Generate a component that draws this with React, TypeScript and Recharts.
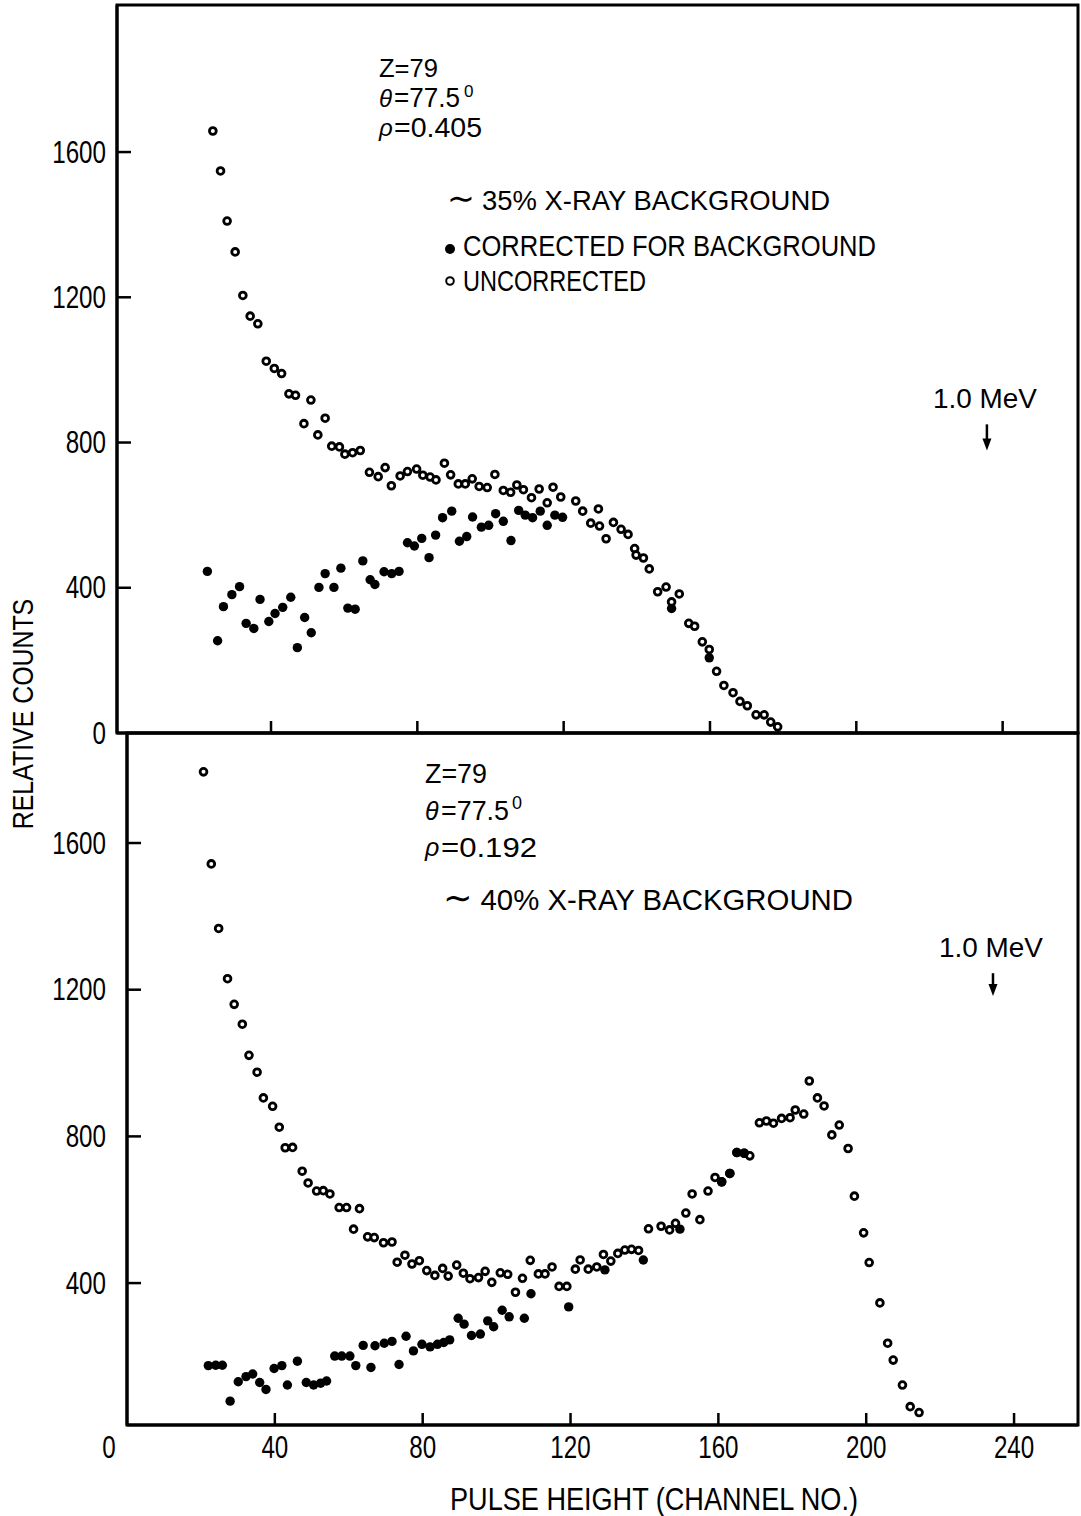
import React from "react";
import {
  ReferenceArea,
  ReferenceLine,
  Scatter,
  ScatterChart,
  XAxis,
  YAxis,
} from "recharts";

const FONT = '"Liberation Sans", Arial, sans-serif';
const INK = "#000";

// ---- upper panel: Z=79, rho=0.405 (channel, relative counts)
const topXDomain: [number, number] = [-2.1, 260.6];
const topYDomain: [number, number] = [0, 2005];
const topXTicks = [40, 80, 120, 160, 200, 240];
const topYTicks = [0, 400, 800, 1200, 1600];

const topUncorrected: [number, number][] = [
  [24.1, 1658], [26.2, 1548], [28.0, 1410], [30.2, 1325], [32.3, 1205],
  [34.3, 1148], [36.4, 1127], [38.7, 1024], [40.9, 1004], [42.9, 990],
  [44.9, 934], [46.7, 930], [49.0, 852], [50.9, 917], [52.8, 821],
  [54.8, 867], [56.6, 790], [58.7, 788], [60.2, 768], [62.3, 772],
  [64.4, 778], [66.9, 718], [69.3, 706], [71.2, 731], [72.9, 681],
  [75.3, 708], [77.3, 720], [79.8, 727], [81.5, 710], [83.5, 705],
  [85.1, 697], [87.4, 743], [89.1, 711], [91.2, 686], [93.1, 686],
  [95.0, 700], [96.9, 679], [99.1, 676], [101.2, 712], [103.5, 668],
  [105.5, 663], [107.2, 683], [109.0, 670], [111.2, 648], [113.3, 672],
  [115.5, 634], [117.1, 677], [119.2, 650], [123.3, 639], [125.2, 611],
  [127.4, 578], [129.5, 617], [129.8, 570], [131.6, 535], [133.6, 580],
  [135.7, 561], [137.6, 547], [139.4, 508], [139.8, 490], [141.8, 482],
  [143.4, 452], [145.7, 389], [148.0, 402], [149.5, 361], [151.6, 383],
  [154.2, 302], [155.8, 294], [157.9, 251], [159.8, 230], [161.8, 170],
  [163.8, 131], [166.3, 111], [168.2, 87], [170.2, 75], [172.6, 50],
  [174.8, 50], [176.6, 30], [178.5, 17],
];

const topCorrected: [number, number][] = [
  [22.6, 445], [25.4, 254], [27.0, 348], [29.3, 381], [31.4, 403],
  [33.2, 302], [35.3, 288], [37.0, 368], [39.4, 307], [41.1, 329],
  [43.2, 346], [45.4, 374], [47.2, 235], [49.2, 318], [51.0, 276],
  [53.1, 401], [54.8, 439], [57.2, 401], [59.1, 454], [61.0, 344],
  [63.0, 341], [65.1, 474], [67.1, 422], [68.4, 409], [70.9, 444],
  [73.0, 439], [75.0, 445], [77.3, 524], [79.2, 515], [81.2, 536],
  [83.2, 483], [85.0, 545], [86.9, 593], [89.4, 611], [91.5, 528],
  [93.5, 541], [95.1, 595], [97.5, 567], [99.5, 572], [101.4, 604],
  [103.5, 583], [105.6, 530], [107.7, 613], [109.5, 600], [111.5, 593],
  [113.6, 611], [115.5, 572], [117.6, 600], [119.7, 594], [149.5, 343],
  [159.8, 207],
];

// ---- lower panel: Z=79, rho=0.192
const botXDomain: [number, number] = [0, 257.3];
const botYDomain: [number, number] = [13, 1900];
const botXTicks = [0, 40, 80, 120, 160, 200, 240];
const botYTicks = [400, 800, 1200, 1600];

const botUncorrected: [number, number][] = [
  [20.7, 1794], [22.8, 1543], [24.8, 1367], [27.2, 1230], [29.0, 1160],
  [31.2, 1106], [33.0, 1021], [35.2, 975], [36.9, 905], [39.4, 882],
  [41.2, 825], [42.8, 769], [44.8, 770], [47.4, 705], [49.0, 673],
  [51.3, 651], [53.1, 652], [54.9, 643], [57.4, 606], [59.4, 606],
  [61.3, 547], [62.9, 603], [65.1, 526], [66.9, 524], [69.4, 510],
  [71.7, 512], [73.1, 457], [75.2, 476], [77.1, 452], [79.1, 461],
  [81.1, 434], [83.3, 421], [85.4, 440], [86.9, 419], [89.2, 449],
  [91.0, 427], [92.8, 412], [95.1, 415], [96.9, 432], [98.7, 402],
  [101.0, 428], [103.0, 424], [105.1, 375], [107.0, 413], [109.1, 462],
  [111.3, 425], [113.1, 425], [115.0, 444], [116.9, 391], [119.0, 391],
  [121.3, 438], [122.6, 463], [124.8, 438], [127.1, 444], [128.9, 478],
  [130.9, 460], [132.8, 481], [134.7, 490], [136.5, 492], [138.4, 489],
  [141.1, 548], [144.5, 555], [146.8, 545], [148.4, 563], [151.2, 591],
  [152.9, 643], [155.0, 573], [157.2, 651], [159.1, 688], [160.9, 676],
  [163.1, 699], [165.0, 756], [167.0, 754], [168.5, 747], [171.1, 837],
  [173.0, 842], [174.9, 836], [177.1, 849], [179.4, 851], [180.8, 872],
  [183.1, 861], [184.6, 951], [186.8, 905], [188.6, 883], [190.7, 804],
  [192.7, 831], [195.1, 767], [196.8, 637], [199.3, 537], [200.8, 456],
  [203.7, 346], [205.8, 236], [207.3, 190], [209.8, 122], [211.9, 63],
  [214.3, 47],
];

const botCorrected: [number, number][] = [
  [22.0, 175], [24.0, 176], [25.8, 176], [27.9, 78], [30.1, 131],
  [32.2, 145], [34.0, 152], [35.9, 129], [37.6, 110], [39.8, 167],
  [41.9, 175], [43.4, 122], [46.1, 187], [48.5, 129], [50.5, 122],
  [52.4, 127], [54.0, 133], [56.2, 201], [58.1, 201], [60.3, 201],
  [61.9, 175], [63.9, 230], [66.0, 170], [67.1, 229], [69.6, 236],
  [71.7, 241], [73.6, 178], [75.5, 255], [77.5, 215], [79.8, 233],
  [82.0, 226], [84.0, 233], [85.7, 238], [87.3, 245], [89.6, 304],
  [91.2, 288], [93.2, 257], [95.6, 261], [97.6, 297], [99.2, 281],
  [101.5, 326], [103.4, 308], [107.5, 304], [109.3, 371], [119.5, 335],
  [129.3, 436], [139.7, 463], [149.6, 547], [160.9, 676], [163.1, 699],
  [165.0, 756], [167.0, 754],
];

// 1.0 MeV markers: [channel, arrow top count, arrow tip count]
const topMeV: [number, number, number] = [235.7, 850, 778];
const botMeV: [number, number, number] = [234.3, 1245, 1183];

// panel geometry (px): plot left, top, height
const TOP_PANEL = { left: 117, top: 5, h: 728 };
const BOT_PANEL = { left: 127, top: 733, h: 692 };

const pts = (rows: [number, number][]) => rows.map(([ch, n]) => ({ ch, n }));

const OpenDot = (p: any) => (
  <circle cx={p.cx} cy={p.cy} r={3.4} fill="#fff" stroke={INK} strokeWidth={2.8} />
);
const FullDot = (p: any) => <circle cx={p.cx} cy={p.cy} r={4.7} fill={INK} />;

const TICK_FS = 31;
const SQUEEZE = 0.78;

function YLabel(props: any) {
  const { y, payload } = props;
  return (
    <text
      transform={`translate(106,${y}) scale(${SQUEEZE},1)`}
      textAnchor="end"
      dominantBaseline="central"
      fontFamily={FONT}
      fontSize={TICK_FS}
      fill={INK}
    >
      {payload.value}
    </text>
  );
}

function BotXLabel(props: any) {
  const { x, y, payload } = props;
  const zero = payload.value === 0;
  return (
    <text
      transform={`translate(${zero ? x - 18 : x},${y + 22}) scale(${SQUEEZE},1)`}
      textAnchor="middle"
      dominantBaseline="central"
      fontFamily={FONT}
      fontSize={TICK_FS}
      fill={INK}
    >
      {payload.value}
    </text>
  );
}

const mevArrow = (p: any) => {
  const x = p.x1;
  const top = Math.min(p.y1, p.y2);
  const tip = Math.max(p.y1, p.y2);
  return (
    <g>
      <line x1={x} x2={x} y1={top} y2={tip - 8} stroke={INK} strokeWidth={2.5} />
      <path d={`M${x - 4.5},${tip - 12} L${x + 4.5},${tip - 12} L${x},${tip} Z`} fill={INK} />
      <text
        x={x - 2}
        y={top - 16}
        textAnchor="middle"
        fontFamily={FONT}
        fontSize={28}
        fill={INK}
        textLength={104}
        lengthAdjust="spacingAndGlyphs"
      >
        1.0 MeV
      </text>
    </g>
  );
};

function T(props: {
  x: number;
  y: number;
  w?: number;
  size?: number;
  italic?: boolean;
  children: React.ReactNode;
}) {
  const { x, y, w, size = 29, italic, children } = props;
  return (
    <text
      x={x}
      y={y}
      fontFamily={FONT}
      fontSize={size}
      fontStyle={italic ? "italic" : "normal"}
      fill={INK}
      textLength={w}
      lengthAdjust={w ? "spacingAndGlyphs" : undefined}
    >
      {children}
    </text>
  );
}

// inward 12px stubs on the bottom edge at each x tick
function xTickMarks(xDom: [number, number], yDom: [number, number], xTicks: number[], plotH: number) {
  const dy = (yDom[1] - yDom[0]) * (12 / plotH);
  return xTicks
    .filter((t) => t > xDom[0])
    .map((t) => (
      <ReferenceLine
        key={`x${t}`}
        segment={[
          { x: t, y: yDom[0] },
          { x: t, y: yDom[0] + dy },
        ]}
        stroke={INK}
        strokeWidth={2.5}
      />
    ));
}

// inward 14px stubs on the left frame, placed with the same linear y scale as the panel
function yTickStubs(panel: { left: number; top: number; h: number }, yDom: [number, number], yTicks: number[]) {
  return yTicks
    .filter((t) => t > yDom[0])
    .map((t) => {
      const y = panel.top + ((yDom[1] - t) / (yDom[1] - yDom[0])) * panel.h;
      return (
        <line
          key={`ys${panel.top}-${t}`}
          x1={panel.left}
          x2={panel.left + 14}
          y1={y}
          y2={y}
          stroke={INK}
          strokeWidth={2.5}
        />
      );
    });
}

export default function App() {
  return (
    <div
      style={{
        position: "absolute",
        left: 0,
        top: 0,
        width: 1081,
        height: 1516,
        background: "#fff",
        fontFamily: FONT,
      }}
    >
      <div style={{ position: "absolute", left: 0, top: 0 }}>
        <ScatterChart width={1081} height={760} margin={{ top: 5, right: 3, bottom: 26, left: 0 }}>
          <XAxis
            type="number"
            dataKey="ch"
            domain={topXDomain}
            allowDataOverflow
            ticks={topXTicks}
            interval={0}
            height={1}
            tickSize={0}
            tickMargin={0}
            tickLine={false}
            tick={false}
            axisLine={{ stroke: INK, strokeWidth: 3 }}
          />
          <YAxis
            type="number"
            dataKey="n"
            domain={topYDomain}
            allowDataOverflow
            ticks={topYTicks}
            interval={0}
            width={117}
            tickSize={0}
            tickMargin={0}
            tickLine={false}
            axisLine={{ stroke: INK, strokeWidth: 3 }}
            tick={<YLabel />}
          />
          <ReferenceArea
            x1={topXDomain[0]}
            x2={topXDomain[1]}
            y1={topYDomain[0]}
            y2={topYDomain[1]}
            fill="none"
            fillOpacity={0}
            stroke={INK}
            strokeWidth={3}
          />
          {xTickMarks(topXDomain, topYDomain, topXTicks, TOP_PANEL.h)}
          <Scatter data={pts(topUncorrected)} isAnimationActive={false} shape={OpenDot} />
          <Scatter data={pts(topCorrected)} isAnimationActive={false} shape={FullDot} />
          <ReferenceLine
            segment={[
              { x: topMeV[0], y: topMeV[1] },
              { x: topMeV[0], y: topMeV[2] },
            ]}
            shape={mevArrow}
          />
        </ScatterChart>
      </div>

      <div style={{ position: "absolute", left: 0, top: 700 }}>
        <ScatterChart width={1081} height={816} margin={{ top: 33, right: 3, bottom: 90, left: 0 }}>
          <XAxis
            type="number"
            dataKey="ch"
            domain={botXDomain}
            allowDataOverflow
            ticks={botXTicks}
            interval={0}
            height={1}
            tickSize={0}
            tickMargin={0}
            tickLine={false}
            axisLine={{ stroke: INK, strokeWidth: 3 }}
            tick={<BotXLabel />}
          />
          <YAxis
            type="number"
            dataKey="n"
            domain={botYDomain}
            allowDataOverflow
            ticks={botYTicks}
            interval={0}
            width={127}
            tickSize={0}
            tickMargin={0}
            tickLine={false}
            axisLine={{ stroke: INK, strokeWidth: 3 }}
            tick={<YLabel />}
          />
          <ReferenceArea
            x1={botXDomain[0]}
            x2={botXDomain[1]}
            y1={botYDomain[0]}
            y2={botYDomain[1]}
            fill="none"
            fillOpacity={0}
            stroke={INK}
            strokeWidth={3}
          />
          {xTickMarks(botXDomain, botYDomain, botXTicks, BOT_PANEL.h)}
          <Scatter data={pts(botUncorrected)} isAnimationActive={false} shape={OpenDot} />
          <Scatter data={pts(botCorrected)} isAnimationActive={false} shape={FullDot} />
          <ReferenceLine
            segment={[
              { x: botMeV[0], y: botMeV[1] },
              { x: botMeV[0], y: botMeV[2] },
            ]}
            shape={mevArrow}
          />
        </ScatterChart>
      </div>

      {/* frame tick stubs, annotations and axis titles */}
      <svg
        width={1081}
        height={1516}
        style={{ position: "absolute", left: 0, top: 0, pointerEvents: "none" }}
      >
        {yTickStubs(TOP_PANEL, topYDomain, topYTicks)}
        {yTickStubs(BOT_PANEL, botYDomain, botYTicks)}

        {/* upper panel */}
        <T x={379} y={77} w={59} size={25}>Z=79</T>
        <T x={379} y={107} size={24} italic>θ</T>
        <T x={394} y={107} w={66} size={27}>=77.5</T>
        <T x={464} y={97} size={17}>0</T>
        <T x={379} y={136} size={24} italic>ρ</T>
        <T x={394} y={137} w={88} size={27}>=0.405</T>

        <text
          x={447}
          y={210}
          fontFamily={FONT}
          fontSize={28}
          fill={INK}
          textLength={383}
          lengthAdjust="spacingAndGlyphs"
        >
          <tspan fontSize={34}>∼</tspan> 35% X-RAY BACKGROUND
        </text>
        <circle cx={450} cy={249} r={5} fill={INK} />
        <T x={463} y={256} w={413} size={29}>CORRECTED FOR BACKGROUND</T>
        <circle cx={450} cy={281} r={3.8} fill="#fff" stroke={INK} strokeWidth={2} />
        <T x={463} y={291} w={183} size={29}>UNCORRECTED</T>

        {/* lower panel */}
        <T x={425} y={783} w={62} size={27}>Z=79</T>
        <T x={425} y={820} size={25} italic>θ</T>
        <T x={441} y={820} w={68} size={28}>=77.5</T>
        <T x={512} y={809} size={18}>0</T>
        <T x={425} y={856} size={25} italic>ρ</T>
        <T x={441} y={857} w={96} size={28}>=0.192</T>

        <text
          x={443}
          y={910}
          fontFamily={FONT}
          fontSize={30}
          fill={INK}
          textLength={410}
          lengthAdjust="spacingAndGlyphs"
        >
          <tspan fontSize={36}>∼</tspan> 40% X-RAY BACKGROUND
        </text>

        {/* axis titles */}
        <text
          transform="translate(33,714) rotate(-90) scale(0.83,1)"
          textAnchor="middle"
          fontFamily={FONT}
          fontSize={30}
          fill={INK}
        >
          RELATIVE COUNTS
        </text>
        <text
          x={654}
          y={1510}
          textAnchor="middle"
          fontFamily={FONT}
          fontSize={31}
          fill={INK}
          textLength={408}
          lengthAdjust="spacingAndGlyphs"
        >
          PULSE HEIGHT (CHANNEL NO.)
        </text>
      </svg>
    </div>
  );
}
